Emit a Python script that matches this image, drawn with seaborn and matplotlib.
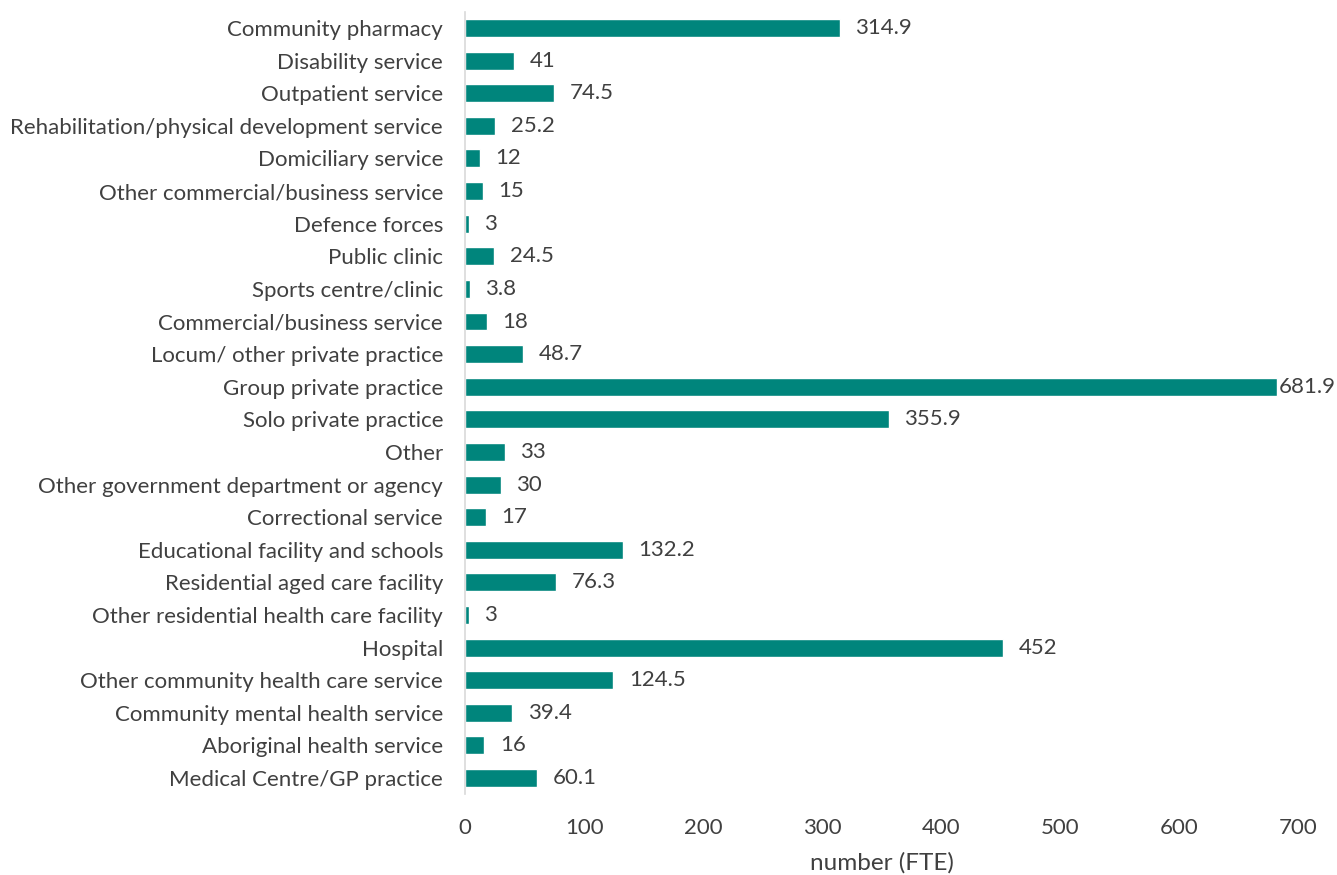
import matplotlib
matplotlib.use("Agg")
import matplotlib.pyplot as plt
import seaborn as sns
import pandas as pd

categories = [
    "Community pharmacy",
    "Disability service",
    "Outpatient service",
    "Rehabilitation/physical development service",
    "Domiciliary service",
    "Other commercial/business service",
    "Defence forces",
    "Public clinic",
    "Sports centre/clinic",
    "Commercial/business service",
    "Locum/ other private practice",
    "Group private practice",
    "Solo private practice",
    "Other",
    "Other government department or agency",
    "Correctional service",
    "Educational facility and schools",
    "Residential aged care facility",
    "Other residential health care facility",
    "Hospital",
    "Other community health care service",
    "Community mental health service",
    "Aboriginal health service",
    "Medical Centre/GP practice",
]
values = [314.9, 41, 74.5, 25.2, 12, 15, 3, 24.5, 3.8, 18, 48.7, 681.9, 355.9,
          33, 30, 17, 132.2, 76.3, 3, 452, 124.5, 39.4, 16, 60.1]
value_labels = ["314.9", "41", "74.5", "25.2", "12", "15", "3", "24.5", "3.8", "18",
                "48.7", "681.9", "355.9", "33", "30", "17", "132.2", "76.3", "3",
                "452", "124.5", "39.4", "16", "60.1"]
x_ticks = [0, 100, 200, 300, 400, 500, 600, 700]

df = pd.DataFrame({"category": categories, "value": values})

sns.set_theme(style="white")
plt.rcParams["font.family"] = ["Lato", "DejaVu Sans"]
text_color = "#404040"

fig = plt.figure(figsize=(13.37, 8.75), dpi=100)
ax = fig.add_axes([0.348, 0.0922, 0.623, 0.8944])

sns.barplot(data=df, x="value", y="category", orient="h", color="#00857C",
            saturation=1, width=0.55, ax=ax)

# value labels sit just past each bar; near the right edge they are pulled in to stay visible
label_gap = 13
label_max_x = 684
for i, (v, lab) in enumerate(zip(values, value_labels)):
    ax.text(min(v + label_gap, label_max_x), i, lab, va="center", ha="left",
            fontsize=16, color=text_color, clip_on=False)

ax.set_xlim(0, 700)
ax.set_ylim(len(categories) - 0.5, -0.5)
ax.set_xticks(x_ticks)
ax.set_xticklabels([str(t) for t in x_ticks], fontsize=16, color=text_color)
ax.tick_params(axis="y", labelsize=16, labelcolor=text_color, length=0, pad=16)
ax.tick_params(axis="x", length=0, pad=17)
ax.set_ylabel("")
ax.set_xlabel("number (FTE)", fontsize=17.5, color=text_color, labelpad=10)

for side in ["top", "right", "bottom"]:
    ax.spines[side].set_visible(False)
ax.spines["left"].set_color("#D9D9D9")
ax.spines["left"].set_linewidth(1.2)

fig.savefig("out.png", dpi=100, facecolor="white")
